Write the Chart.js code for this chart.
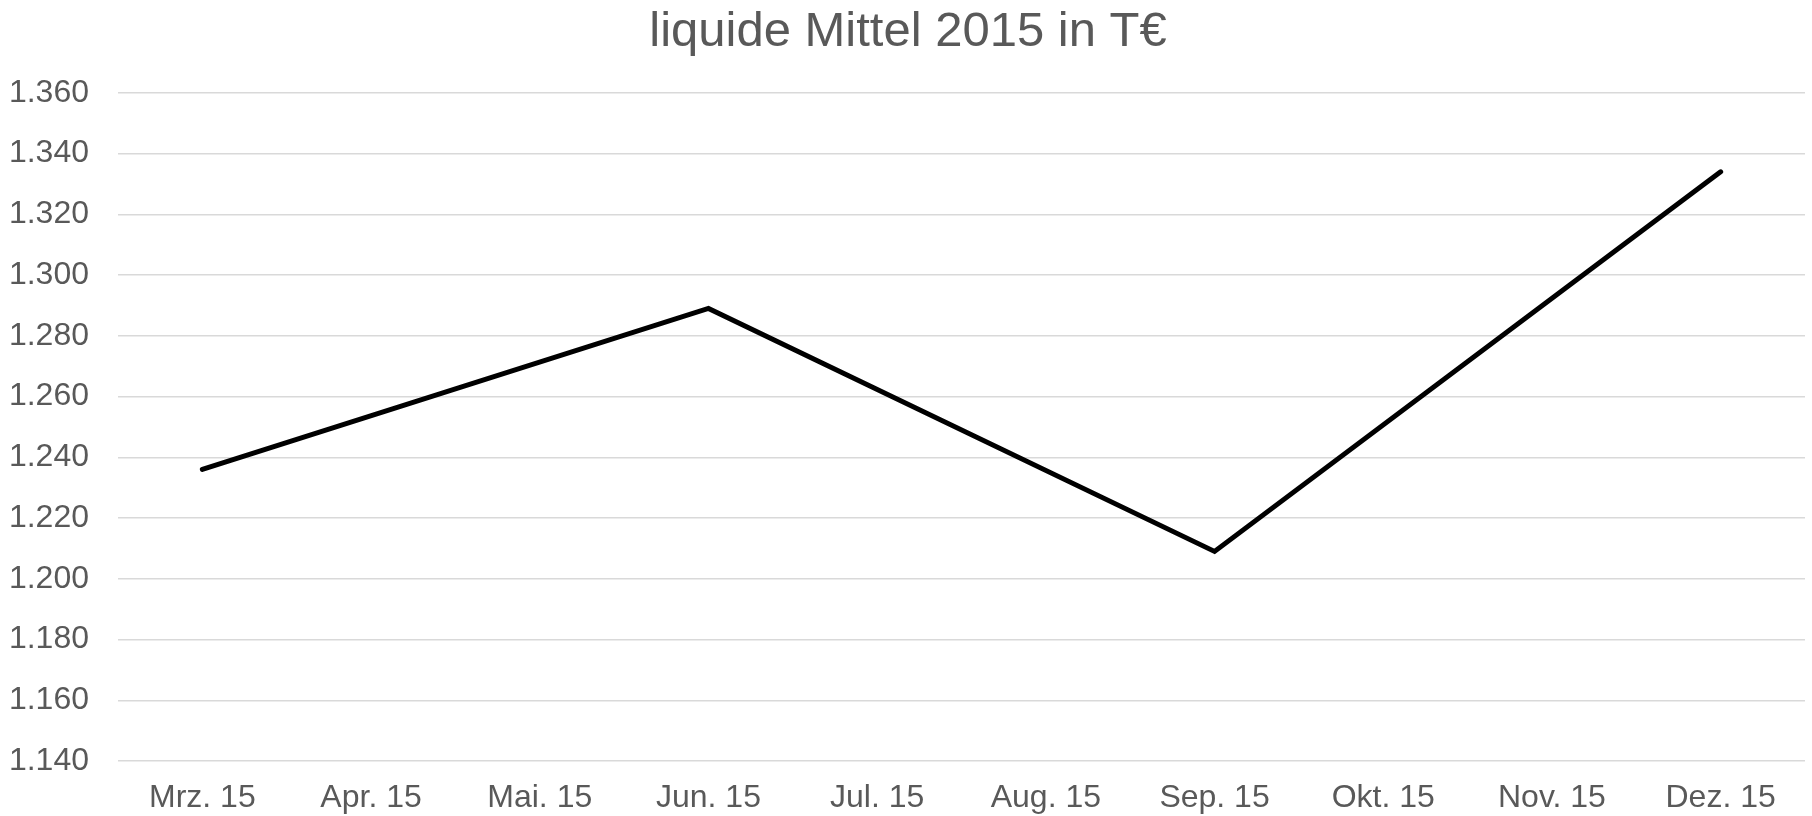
<!DOCTYPE html>
<html lang="de">
<head>
<meta charset="utf-8">
<title>liquide Mittel 2015 in T€</title>
<script src="https://cdn.jsdelivr.net/npm/chart.js@4/dist/chart.umd.min.js"></script>
<style>
    html, body { margin: 0; padding: 0; background: #ffffff; }
    .chart-container { position: relative; width: 1812px; height: 816px; }
</style>
</head>
<body>
<div class="chart-container">
    <canvas id="myChart"></canvas>
</div>
<script>
// Monate auf der X-Achse
const months = ['Mrz. 15', 'Apr. 15', 'Mai. 15', 'Jun. 15', 'Jul. 15', 'Aug. 15', 'Sep. 15', 'Okt. 15', 'Nov. 15', 'Dez. 15'];
// liquide Mittel in T€ (nur Quartalsmonate bekannt, Lücken werden verbunden)
const liquideMittel = [1236, null, null, 1289, null, null, 1209, null, null, 1334];
// Y-Achse
const yMin = 1140;
const yMax = 1360;
const yStep = 20;

const fontFamily = '"Liberation Sans", Arial, sans-serif';
const textColor = '#595959';

const config = {
    type: 'line',
    data: {
        labels: months,
        datasets: [{
            label: 'liquide Mittel',
            data: liquideMittel,
            borderColor: '#000000',
            backgroundColor: '#000000',
            borderWidth: 5,
            borderCapStyle: 'round',
            borderJoinStyle: 'miter',
            pointRadius: 0,
            spanGaps: true,
            tension: 0
        }]
    },
    options: {
        responsive: true,
        maintainAspectRatio: false,
        animation: false,
        layout: {
            padding: { left: 11, right: 7, top: 0, bottom: 0 }
        },
        scales: {
            y: {
                min: yMin,
                max: yMax,
                border: { display: false },
                grid: {
                    color: '#d9d9d9',
                    lineWidth: 1.5,
                    drawTicks: false
                },
                ticks: {
                    stepSize: yStep,
                    padding: 29,
                    color: textColor,
                    font: { family: fontFamily, size: 32 },
                    callback: (value) => value.toLocaleString('de-DE')
                },
                // feste Breite der Y-Achse (Zeichenfläche beginnt bei x = 118)
                afterFit: (scale) => { scale.width = 107; }
            },
            x: {
                offset: true,
                border: { display: false },
                grid: { display: false, drawTicks: false, offset: true },
                ticks: {
                    padding: 18,
                    maxRotation: 0,
                    autoSkip: false,
                    color: textColor,
                    font: { family: fontFamily, size: 32 }
                },
                // feste Höhe der X-Achse
                afterFit: (scale) => { scale.height = 55; }
            }
        },
        plugins: {
            legend: { display: false },
            tooltip: { enabled: false },
            title: {
                display: true,
                text: 'liquide Mittel 2015 in T€',
                color: textColor,
                font: { family: fontFamily, size: 49, weight: 'normal' },
                padding: { top: 3, bottom: 31 }
            }
        }
    }
};

const ctx = document.getElementById('myChart').getContext('2d');
new Chart(ctx, config);
</script>
</body>
</html>
